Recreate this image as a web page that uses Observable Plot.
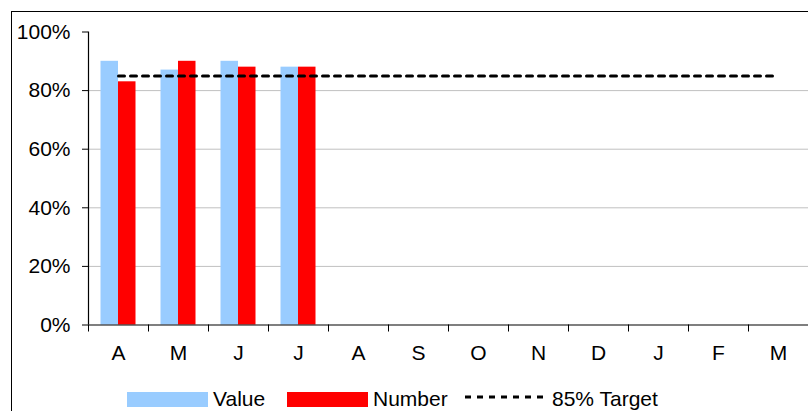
<!DOCTYPE html>
<html>
<head>
<meta charset="utf-8">
<script src="https://cdn.jsdelivr.net/npm/d3@7"></script>
<script src="https://cdn.jsdelivr.net/npm/@observablehq/plot@0.6"></script>
<style>
  html, body { margin: 0; padding: 0; background: #fff; }
  #wrap { position: relative; width: 808px; height: 411px; overflow: hidden; font-family: "Liberation Sans", Arial, sans-serif; }
  #border { position: absolute; left: 11px; top: 11px; width: 900px; height: 500px; border: 1.5px solid #000; pointer-events: none; z-index: 5; }
  .leg { position: absolute; font-size: 21px; line-height: 21px; color: #000; white-space: nowrap; }
  .sw { position: absolute; }
</style>
</head>
<body>
<div id="wrap">
  <div id="chart"></div>
  <div id="border"></div>
  <div id="legend"></div>
</div>
<script>
// Data
const months = ["A","M","J","J","A","S","O","N","D","J","F","M"];
const valueSeries = [90, 87, 90, 88];
const numberSeries = [83, 90, 88, 88];
const target = 85;
const yTicks = [0, 20, 40, 60, 80, 100];
const gridTicks = [20, 40, 60, 80];
const seriesNames = ["Value", "Number", "85% Target"];
const colors = {Value: "#99CCFF", Number: "#FF0000", Target: "#000000"};

const idx = d3.range(months.length);
const rows = valueSeries.map((v, i) => ({i, value: v, number: numberSeries[i]}));

const chart = Plot.plot({
  width: 808,
  height: 411,
  marginLeft: 88,
  marginRight: 0,
  marginTop: 31.5,
  marginBottom: 86.5,
  style: {fontFamily: "'Liberation Sans', Arial, sans-serif", fontSize: "21px", color: "#000", background: "transparent"},
  x: {type: "band", domain: idx, padding: 0},
  y: {domain: [0, 100]},
  marks: [
    Plot.gridY(gridTicks, {stroke: "#c0c0c0", strokeOpacity: 1}),
    Plot.barY(rows, {x: "i", y: "value", fill: colors.Value, insetLeft: 12.5, insetRight: 30}),
    Plot.barY(rows, {x: "i", y: "number", fill: colors.Number, insetLeft: 30, insetRight: 12.5}),
    Plot.lineY(idx, {x: d => d, y: () => target, stroke: colors.Target, strokeWidth: 3, strokeDasharray: "6,6"}),
    Plot.ruleY([0], {stroke: "#000", strokeWidth: 1.2}),
    Plot.ruleX([0], {dx: -30, stroke: "#000", strokeWidth: 1.2}),
    Plot.axisY(yTicks, {tickSize: 6, tickPadding: 12, tickFormat: d => d + "%", label: null}),
    Plot.axisX(idx, {tickSize: 7, tickFormat: () => "", dx: -30, label: null}),
    Plot.axisX(idx, {tickSize: 0, tickPadding: 20, tickFormat: i => months[i], label: null})
  ]
});
document.getElementById("chart").appendChild(chart);

// Legend
const legend = document.getElementById("legend");
function add(html) { legend.insertAdjacentHTML("beforeend", html); }
add(`<div class="sw" style="left:127px;top:392px;width:81px;height:15px;background:${colors.Value}"></div>`);
add(`<div class="leg" style="left:213px;top:388px">${seriesNames[0]}</div>`);
add(`<div class="sw" style="left:287px;top:392px;width:81px;height:15px;background:${colors.Number}"></div>`);
add(`<div class="leg" style="left:373px;top:388px">${seriesNames[1]}</div>`);
add(`<svg class="sw" style="left:465px;top:394px" width="80" height="6"><line x1="0" y1="3" x2="80" y2="3" stroke="${colors.Target}" stroke-width="3" stroke-dasharray="6,6"/></svg>`);
add(`<div class="leg" style="left:552px;top:388px">${seriesNames[2]}</div>`);
</script>
</body>
</html>
